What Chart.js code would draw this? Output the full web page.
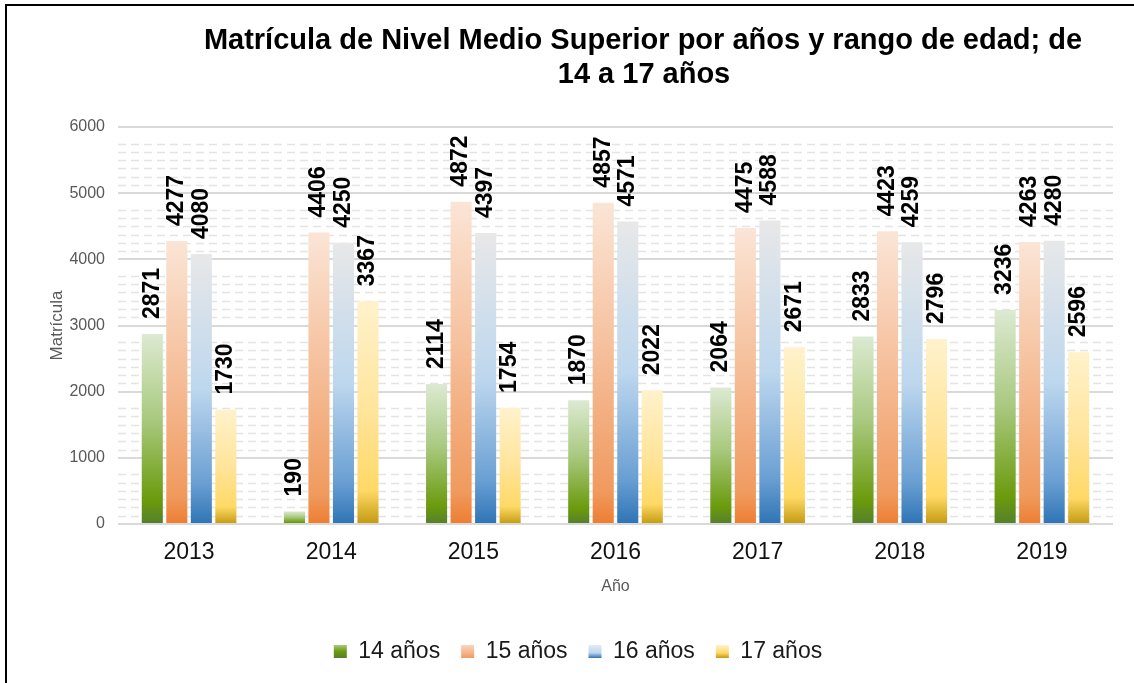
<!DOCTYPE html>
<html>
<head>
<meta charset="utf-8">
<script src="https://cdn.jsdelivr.net/npm/chart.js@4.4.1/dist/chart.umd.min.js"></script>
<style>
  html, body { margin: 0; background: #fff; overflow: hidden; }
</style>
</head>
<body>
<canvas id="matriculaChart"></canvas>
<script>
// datos
var years = ['2013', '2014', '2015', '2016', '2017', '2018', '2019'];
var seriesNames = ['14 años', '15 años', '16 años', '17 años'];
var edad14 = [2871, 190, 2114, 1870, 2064, 2833, 3236];
var edad15 = [4277, 4406, 4872, 4857, 4475, 4423, 4263];
var edad16 = [4080, 4250, 4397, 4571, 4588, 4259, 4280];
var edad17 = [1730, 3367, 1754, 2022, 2671, 2796, 2596];
var titleLines = ['Matrícula de Nivel Medio Superior por años y rango de edad; de', '14 a 17 años'];

var FONT = "'Liberation Sans', Arial, sans-serif";

// gradient stops per series (top -> bottom)
var greenStops = [[0, '#dcead2'], [0.45, '#a9c97f'], [0.88, '#6a9a0c'], [1, '#557f2e']];
var orangeStops = [[0, '#fbe5d6'], [0.5, '#f5bc96'], [0.9, '#f09a5e'], [1, '#ed7d31']];
var blueStops = [[0, '#e8e8e8'], [0.5, '#bdd7ee'], [0.85, '#6a9fd3'], [1, '#2e74b5']];
var yellowStops = [[0, '#fff2cc'], [0.5, '#ffe49a'], [0.85, '#ffd966'], [1, '#c39a10']];
var legendStops = [
  [[0, '#a9c97f'], [0.5, '#6a9a0c'], [1, '#557f2e']],
  [[0, '#fbd5bd'], [0.6, '#f5b48a'], [1, '#f09a5e']],
  [[0, '#e3ebf4'], [0.6, '#bdd7ee'], [1, '#2e74b5']],
  [[0, '#fff2cc'], [0.6, '#ffd966'], [1, '#c39a10']]
];

function barFill(stops, solid) {
  return function (c) {
    var chart = c.chart;
    if (c.type !== 'data' || !chart.chartArea || !chart.scales.y) return solid;
    var y = chart.scales.y;
    var top = y.getPixelForValue(c.raw);
    var base = y.getPixelForValue(0);
    if (!isFinite(top) || base - top < 1) return solid;
    var g = chart.ctx.createLinearGradient(0, top, 0, base);
    stops.forEach(function (s) { g.addColorStop(s[0], s[1]); });
    return g;
  };
}

// outer frame, only top and left edges show in the picture
var frame = {
  id: 'frame',
  beforeDraw: function (chart) {
    var ctx = chart.ctx;
    ctx.save();
    ctx.fillStyle = '#fff';
    ctx.fillRect(0, 0, chart.width, chart.height);
    ctx.strokeStyle = '#000';
    ctx.lineWidth = 2;
    ctx.beginPath();
    ctx.moveTo(6, chart.height);
    ctx.lineTo(6, 5);
    ctx.lineTo(chart.width, 5);
    ctx.stroke();
    ctx.restore();
  }
};

// dashed minor lines like the excel pattern
var minorLines = {
  id: 'minorLines',
  beforeDatasetsDraw: function (chart) {
    var ctx = chart.ctx, y = chart.scales.y, area = chart.chartArea;
    ctx.save();
    ctx.strokeStyle = '#e4e4e4';
    ctx.lineWidth = 1.5;
    ctx.setLineDash([8, 5]);
    for (var k = 0; k < 6000; k += 1000) {
      for (var m = 125; m <= 750; m += 125) {
        var py = Math.round(y.getPixelForValue(k + m)) + 0.5;
        ctx.beginPath();
        ctx.moveTo(area.left, py);
        ctx.lineTo(area.right, py);
        ctx.stroke();
      }
    }
    ctx.restore();
  }
};

var valueLabels = {
  id: 'valueLabels',
  afterDatasetsDraw: function (chart) {
    var ctx = chart.ctx;
    ctx.save();
    ctx.font = 'bold 23px ' + FONT;
    ctx.fillStyle = '#000';
    ctx.textAlign = 'left';
    ctx.textBaseline = 'middle';
    chart.data.datasets.forEach(function (ds, i) {
      chart.getDatasetMeta(i).data.forEach(function (bar, j) {
        ctx.save();
        ctx.translate(bar.x, bar.y - 15);
        ctx.rotate(-Math.PI / 2);
        ctx.fillText(String(ds.data[j]), 0, 0);
        ctx.restore();
      });
    });
    ctx.restore();
  }
};

var chartTitle = {
  id: 'chartTitle',
  afterDraw: function (chart) {
    var ctx = chart.ctx;
    ctx.save();
    ctx.font = 'bold 29px ' + FONT;
    ctx.fillStyle = '#000';
    ctx.textAlign = 'center';
    ctx.textBaseline = 'alphabetic';
    ctx.fillText(titleLines[0], 643, 49);
    ctx.fillText(titleLines[1], 644, 83);
    ctx.restore();
  }
};

// gradient squares painted over the legend items
var legendBoxes = {
  id: 'legendBoxes',
  afterDraw: function (chart) {
    var boxes = chart.legend && chart.legend.legendHitBoxes;
    if (!boxes) return;
    var ctx = chart.ctx;
    boxes.forEach(function (hb, i) {
      var cy = hb.top + hb.height / 2;
      var g = ctx.createLinearGradient(0, cy - 6.5, 0, cy + 6.5);
      legendStops[i].forEach(function (s) { g.addColorStop(s[0], s[1]); });
      ctx.fillStyle = g;
      ctx.fillRect(hb.left, cy - 6.5, 13, 13);
    });
  }
};

var cfg = {
  type: 'bar',
  data: {
    labels: years,
    datasets: [
      { label: seriesNames[0], data: edad14, backgroundColor: barFill(greenStops, '#70a030') },
      { label: seriesNames[1], data: edad15, backgroundColor: barFill(orangeStops, '#f4b183') },
      { label: seriesNames[2], data: edad16, backgroundColor: barFill(blueStops, '#9dc3e6') },
      { label: seriesNames[3], data: edad17, backgroundColor: barFill(yellowStops, '#ffd966') }
    ]
  },
  options: {
    responsive: false,
    animation: false,
    categoryPercentage: 0.69,
    barPercentage: 0.86,
    layout: { padding: { top: 127, right: 21, left: 43, bottom: 10 } },
    plugins: {
      title: { display: false },
      tooltip: { enabled: false },
      legend: {
        position: 'bottom',
        labels: {
          boxWidth: 13,
          boxHeight: 13,
          padding: 21,
          color: '#1a1a1a',
          font: { family: FONT, size: 23 },
          generateLabels: function (chart) {
            var items = Chart.defaults.plugins.legend.labels.generateLabels(chart);
            items.forEach(function (it) {
              it.fillStyle = 'rgba(0,0,0,0)';
              it.strokeStyle = 'rgba(0,0,0,0)';
              it.lineWidth = 0;
            });
            return items;
          }
        }
      }
    },
    scales: {
      x: {
        grid: { display: false, drawTicks: false },
        border: { display: false },
        ticks: { color: '#111', padding: 15, font: { family: FONT, size: 23 } },
        title: { display: true, text: 'Año', color: '#595959',
                 font: { family: FONT, size: 16 }, padding: { top: 0, bottom: 23 } },
        afterFit: function (s) { s.height = 95; }
      },
      y: {
        min: 0,
        max: 6000,
        ticks: {
          stepSize: 1000, color: '#595959', padding: 13, font: { family: FONT, size: 16 },
          callback: function (v) { return String(v); }
        },
        grid: { color: '#d9d9d9', lineWidth: 2, drawTicks: false },
        border: { display: false },
        title: { display: true, text: 'Matrícula', color: '#595959',
                 font: { family: FONT, size: 17 }, padding: { top: 4, bottom: 0 } },
        afterFit: function (s) { s.width = 75; }
      }
    }
  },
  plugins: [frame, minorLines, valueLabels, chartTitle, legendBoxes]
};

var cv = document.getElementById('matriculaChart');
cv.width = 1134;
cv.height = 683;
var matriculaChart = new Chart(cv.getContext('2d'), cfg);
</script>
</body>
</html>
